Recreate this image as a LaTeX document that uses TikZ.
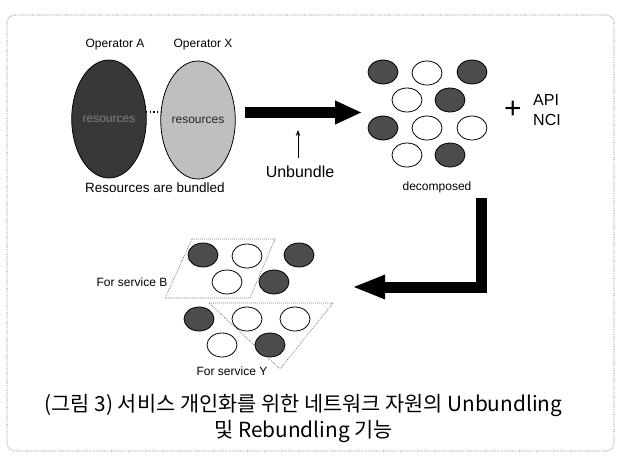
\documentclass[tikz,border=0pt]{standalone}
\usepackage{fontspec}
\setmainfont{Liberation Sans}
\newfontfamily\krfont{Noto Sans CJK KR}
\usetikzlibrary{shapes.geometric,arrows.meta}
\begin{document}
\begin{tikzpicture}[x=1pt,y=-1pt,
  lbl/.style={inner sep=0pt, font=\fontsize{12}{14}\selectfont},
  biglbl/.style={inner sep=0pt, font=\fontsize{16}{18}\selectfont},
  caption/.style={inner sep=0pt, font=\krfont\fontsize{20.8}{23}\selectfont},
  bundle/.style={ellipse, draw, line width=0.8pt, inner sep=0pt,
    minimum width=65pt, minimum height=118pt, font=\fontsize{12}{14}\selectfont},
  res/.style={ellipse, draw, line width=0.8pt, inner sep=0pt,
    minimum width=30pt, minimum height=24pt},
  full/.style={res, fill=black!70},
  empty/.style={res, fill=white},
  group/.style={draw=black!55, line width=0.6pt, dash pattern=on 1pt off 1pt},
  blockarrow/.style={line width=11pt, line join=miter,
    -{Triangle[length=#1, width=22pt]}},
  thinarrow/.style={line width=0.8pt, -{Stealth[length=6pt, width=4.5pt]}},
  frame/.style={draw=black!35, line width=1.3pt, dash pattern=on 0.6pt off 1.1pt,
    rounded corners=8pt}
]
\useasboundingbox (0,0) rectangle (622,461);

% page frame
\path[frame] (7,15) rectangle (614,451);

% bundled resources of the two operators
\node[lbl] (opAlbl) at (115,45) {Operator A};
\node[lbl] (opXlbl) at (203,45) {Operator X};
\node[bundle, fill=black!78, text=black!50] (opA) at (109,119) {resources};
\node[bundle, fill=black!25, text=black!85] (opX) at (198,120) {resources};
\coordinate (dotsL) at (146,112);
\coordinate (dotsR) at (161,112);
\draw[line width=1.1pt, dash pattern=on 1.1pt off 2.6pt] (dotsL) -- (dotsR);
\node[inner sep=0pt, font=\fontsize{13.5}{15}\selectfont] (bundled) at (155,188) {Resources are bundled};

% unbundling step
\coordinate (unS) at (245,112.5);
\coordinate (unE) at (362,112.5);
\draw[blockarrow=27pt] (unS) -- (unE);
\node[biglbl] (unb) at (300,172) {Unbundle};
\coordinate (unTip) at (298,130);
\draw[thinarrow] ([yshift=8pt]unb.north -| unTip) -- (unTip);

% decomposed resources
\node[full]  (d1) at (383,72) {};
\node[empty] (d2) at (427,73) {};
\node[full]  (d3) at (472,72) {};
\node[empty] (d4) at (407,100) {};
\node[full]  (d5) at (450,100) {};
\node[full]  (d6) at (383,128) {};
\node[empty] (d7) at (427,128) {};
\node[empty] (d8) at (472,128) {};
\node[empty] (d9) at (407,155) {};
\node[full]  (d10) at (450,155) {};
\node[lbl] (decomp) at (437,187) {decomposed};
\node[inner sep=0pt, font=\fontsize{30}{30}\selectfont] (plus) at (513,110) {+};
\node[biglbl, anchor=west] (api) at (533,100) {API};
\node[biglbl, anchor=west] (nci) at (533,120) {NCI};

% rebundling step
\coordinate (reS) at (481,198);
\coordinate (reC) at (481,287);
\coordinate (reE) at (352,287);
\draw[blockarrow=33pt] (reS) -- (reC) -- (reE);

% service B
\draw[group] (192,239) -- (275,239) -- (250,298) -- (165,298) -- cycle;
\node[full]  (b1) at (203,255) {};
\node[empty] (b2) at (247,256) {};
\node[full]  (b3) at (299,255) {};
\node[empty] (b4) at (227,282) {};
\node[full]  (b5) at (274,282) {};
\node[lbl] (forB) at (132,282) {For service B};

% service Y
\draw[group] (209,303) -- (333,303) -- (280,369) -- cycle;
\node[full]  (y1) at (199,319) {};
\node[empty] (y2) at (247,319) {};
\node[empty] (y3) at (295,319) {};
\node[empty] (y4) at (222,345) {};
\node[full]  (y5) at (270,345) {};
\node[lbl] (forY) at (232,371) {For service Y};

% caption
\node[caption] (cap1) at (303.5,405)
  {(그림 3) 서비스 개인화를 위한 네트워크 자원의 Unbundling};
\node[caption] (cap2) at (303.5,431)
  {및 Rebundling 기능};
\end{tikzpicture}
\end{document}
